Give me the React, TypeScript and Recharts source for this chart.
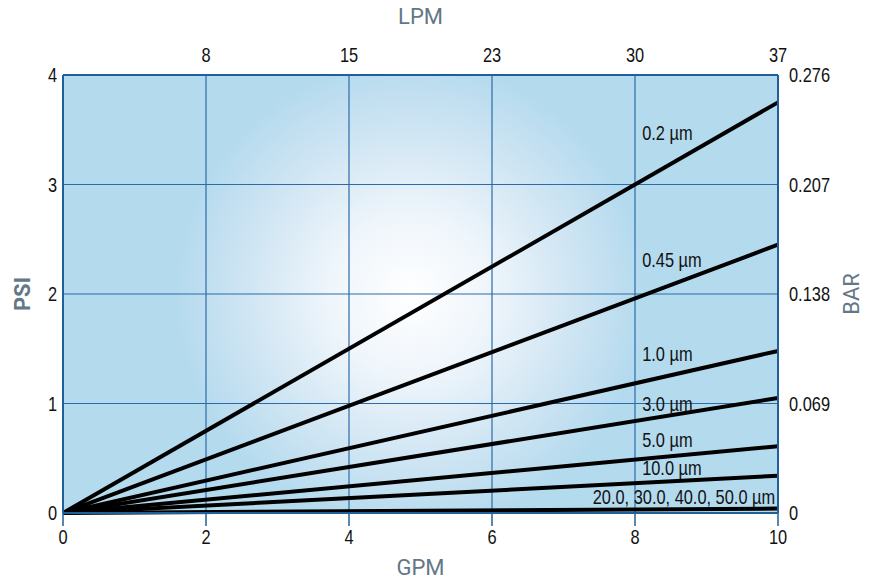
import React from 'react';
import {
  ComposedChart, Line, XAxis, YAxis, CartesianGrid, ReferenceDot, Label,
} from 'recharts';

const gpmTicks = [0, 2, 4, 6, 8, 10];
const lpmTickPositions = [2, 4, 6, 8, 10];
const lpmTickLabels = ['8', '15', '23', '30', '37'];
const psiTicks = [0, 1, 2, 3, 4];
const barTickLabels = ['0', '0.069', '0.138', '0.207', '0.276'];

const flowGpm = [0, 10];
const series = [
  { key: 's02', name: '0.2 µm', values: [0, 3.75], labelX: 8.1, labelY: 3.47, anchor: 'start' },
  { key: 's045', name: '0.45 µm', values: [0, 2.45], labelX: 8.1, labelY: 2.31, anchor: 'start' },
  { key: 's10', name: '1.0 µm', values: [0, 1.48], labelX: 8.1, labelY: 1.45, anchor: 'start' },
  { key: 's30', name: '3.0 µm', values: [0, 1.05], labelX: 8.1, labelY: 1.0, anchor: 'start' },
  { key: 's50', name: '5.0 µm', values: [0, 0.61], labelX: 8.1, labelY: 0.67, anchor: 'start' },
  { key: 's100', name: '10.0 µm', values: [0, 0.34], labelX: 8.1, labelY: 0.41, anchor: 'start' },
  { key: 's200', name: '20.0, 30.0, 40.0, 50.0 µm', values: [0, 0.04], labelX: 9.96, labelY: 0.146, anchor: 'end' },
];

const data = flowGpm.map((x, i) => {
  const row: Record<string, number> = { gpm: x };
  series.forEach((s) => { row[s.key] = s.values[i]; });
  return row;
});

const FONT = '"Liberation Sans", Arial, sans-serif';
const NARROW = 0.82;
const TITLE_FONT = 'Roboto, "Liberation Sans", sans-serif';
const TITLE_COLOR = '#637786';
const AXIS_BLUE = '#1f5f9a';
const GRID_BLUE = '#2b6ca8';

const NarrowText = ({ x, y, anchor, dy, children }: any) => (
  <g transform={`translate(${x},${y})`}>
    <text x={0} y={0} dy={dy} textAnchor={anchor} transform={`scale(${NARROW},1)`}
      style={{ fontFamily: FONT, fontSize: 20, fill: '#111' }}>
      {children}
    </text>
  </g>
);

const dyFor = (va: string) => (va === 'start' ? '0.71em' : va === 'end' ? '0' : '0.355em');

const makeTick = (fmt?: (v: number) => string) => (props: any) => {
  const { x, y, payload, textAnchor, verticalAnchor } = props;
  const label = fmt ? fmt(payload.value) : String(payload.value);
  return (
    <NarrowText x={x} y={y} anchor={textAnchor} dy={dyFor(verticalAnchor)}>{label}</NarrowText>
  );
};

const gpmTick = makeTick();
const psiTick = makeTick();
const lpmTick = makeTick((v) => lpmTickLabels[lpmTickPositions.indexOf(v)] ?? '');
const barTick = makeTick((v) => barTickLabels[psiTicks.indexOf(v)] ?? '');

const SeriesLabel = (props: any) => {
  const { viewBox, value, anchor } = props;
  return (
    <NarrowText x={viewBox.x} y={viewBox.y} anchor={anchor} dy="0.355em">{value}</NarrowText>
  );
};

export default function App() {
  return (
    <div style={{ position: 'absolute', left: 0, top: 0, width: 872, height: 581, background: '#fff' }}>
      <ComposedChart width={872} height={581} data={data}
        margin={{ top: 0, right: 0, bottom: 0, left: 0 }}>
        <defs>
          <radialGradient id="bgGrad" gradientUnits="userSpaceOnUse" cx={410} cy={295} r={235}>
            <stop offset="0" stopColor="#ffffff" />
            <stop offset="0.35" stopColor="#eef5fb" />
            <stop offset="0.7" stopColor="#cfe5f3" />
            <stop offset="1" stopColor="#b4daee" />
          </radialGradient>
        </defs>
        <CartesianGrid xAxisId="gpm" yAxisId="psi" stroke={GRID_BLUE} strokeWidth={1.2}
          fill="url(#bgGrad)" fillOpacity={1} />
        <XAxis xAxisId="gpm" dataKey="gpm" type="number" domain={[0, 10]} ticks={gpmTicks}
          orientation="bottom" height={68} interval={0}
          tick={gpmTick} tickSize={13} tickMargin={4}
          axisLine={{ stroke: AXIS_BLUE, strokeWidth: 2 }} tickLine={{ stroke: AXIS_BLUE, strokeWidth: 1.5 }}>
          <Label value="GPM" position="insideBottom" offset={6}
            style={{ fontFamily: TITLE_FONT, fontSize: 22, fill: TITLE_COLOR }} />
        </XAxis>
        <XAxis xAxisId="lpm" dataKey="gpm" type="number" domain={[0, 10]} ticks={lpmTickPositions}
          orientation="top" height={75} interval={0}
          tick={lpmTick} tickLine={false} tickSize={0} tickMargin={13}
          axisLine={{ stroke: AXIS_BLUE, strokeWidth: 2 }}>
          <Label value="LPM" position="insideTop" offset={8}
            style={{ fontFamily: TITLE_FONT, fontSize: 22, fill: TITLE_COLOR }} />
        </XAxis>
        <YAxis yAxisId="psi" type="number" domain={[0, 4]} ticks={psiTicks} orientation="left"
          width={63} interval={0} tick={psiTick} tickLine={false} tickSize={0} tickMargin={6}
          axisLine={{ stroke: AXIS_BLUE, strokeWidth: 2 }}>
          <Label value="PSI" angle={-90} position="insideLeft" offset={22}
            style={{ fontFamily: TITLE_FONT, fontSize: 22, fontWeight: 700, fill: TITLE_COLOR, textAnchor: 'middle' }} />
        </YAxis>
        <YAxis yAxisId="bar" type="number" domain={[0, 4]} ticks={psiTicks} orientation="right"
          width={94} interval={0} tick={barTick} tickLine={false} tickSize={0} tickMargin={11}
          axisLine={{ stroke: AXIS_BLUE, strokeWidth: 2 }}>
          <Label value="BAR" angle={-90} position="insideRight" offset={21}
            style={{ fontFamily: TITLE_FONT, fontSize: 22, fill: TITLE_COLOR, textAnchor: 'middle' }} />
        </YAxis>
        <Line xAxisId="gpm" yAxisId="bar" dataKey="s02" stroke="none" dot={false} activeDot={false}
          isAnimationActive={false} legendType="none" />
        {series.map((s) => (
          <Line key={s.key} xAxisId="gpm" yAxisId="psi" dataKey={s.key} type="linear"
            stroke="#000" strokeWidth={4} dot={false} activeDot={false}
            isAnimationActive={false} />
        ))}
        {series.map((s) => (
          <ReferenceDot key={'l' + s.key} xAxisId="gpm" yAxisId="psi" x={s.labelX} y={s.labelY}
            r={0} fill="none" stroke="none"
            label={<SeriesLabel value={s.name} anchor={s.anchor} />} />
        ))}
      </ComposedChart>
    </div>
  );
}
